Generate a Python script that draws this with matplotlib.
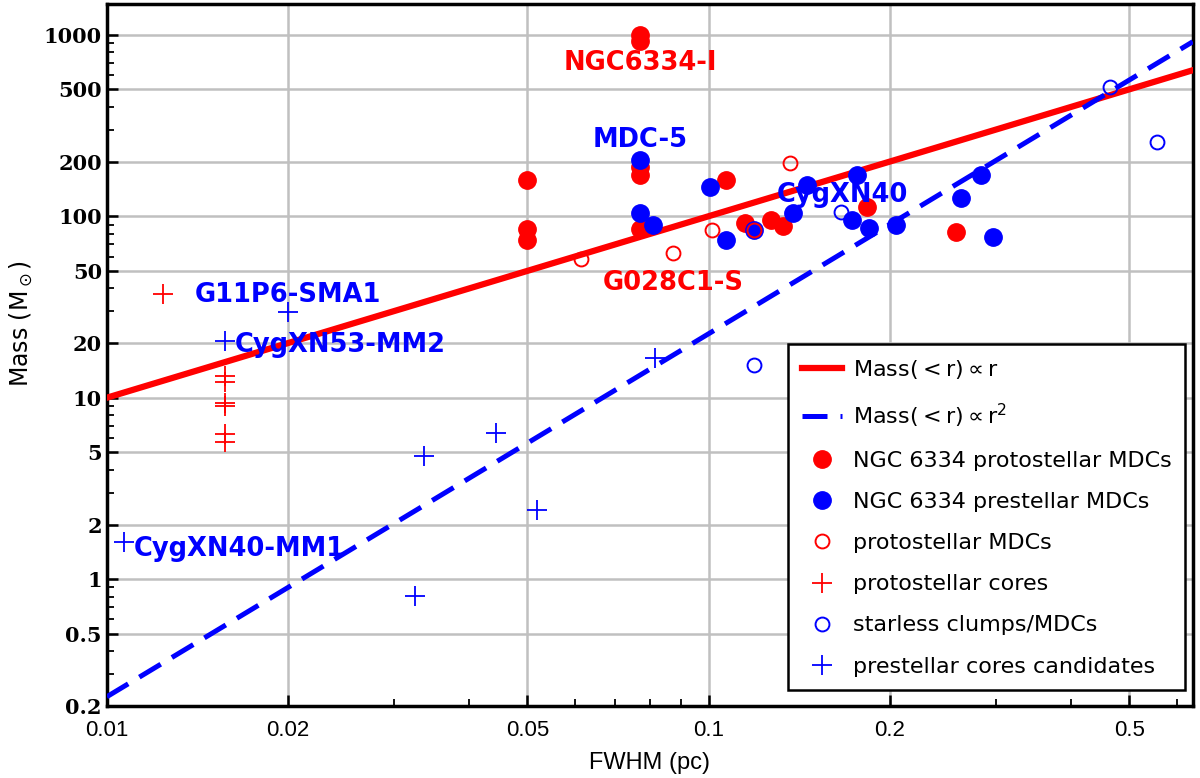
import numpy as np
import matplotlib.pyplot as plt
from matplotlib.ticker import LogLocator, FixedLocator, FixedFormatter, NullFormatter

# NGC 6334 protostellar MDCs (filled red)
ngc_proto_fwhm = [0.077, 0.077, 0.05, 0.05, 0.05, 0.077, 0.077, 0.077, 0.107, 0.115, 0.127, 0.133, 0.1835, 0.258]
ngc_proto_mass = [1000, 920, 158, 85, 74, 188, 168, 85, 158, 92, 95, 88, 113, 82]

# NGC 6334 prestellar MDCs (filled blue)
ngc_pre_fwhm = [0.077, 0.077, 0.0808, 0.1004, 0.107, 0.119, 0.138, 0.1455, 0.1765, 0.173, 0.185, 0.205, 0.263, 0.284, 0.297]
ngc_pre_mass = [205, 104, 89, 145, 74, 84, 104, 148, 169, 95, 86, 89, 126, 169, 77]

# protostellar MDCs (open red)
proto_mdc_fwhm = [0.0615, 0.0873, 0.1014, 0.1364, 0.119]
proto_mdc_mass = [58, 63, 84, 197, 84]

# protostellar cores (red plus)
proto_core_fwhm = [0.0124, 0.0157, 0.0157, 0.0157, 0.0157, 0.0157, 0.0157]
proto_core_mass = [37.5, 13.1, 12.2, 9.4, 9.0, 6.3, 5.7]

# starless clumps / MDCs (open blue)
starless_fwhm = [0.166, 0.119, 0.464, 0.556]
starless_mass = [106, 15.1, 515, 256]

# prestellar cores candidates (blue plus)
pre_core_fwhm = [0.02, 0.0157, 0.0107, 0.0337, 0.0325, 0.0444, 0.0518, 0.0815]
pre_core_mass = [29.5, 20.6, 1.6, 4.8, 0.81, 6.4, 2.4, 16.6]

# annotations: text, x, y, colour
ann_text = ["NGC6334-I", "MDC-5", "CygXN40", "G028C1-S", "G11P6-SMA1", "CygXN53-MM2", "CygXN40-MM1"]
ann_x = [0.077, 0.077, 0.1297, 0.0668, 0.014, 0.0163, 0.0111]
ann_y = [700, 263, 131, 43, 37, 19.4, 1.46]
ann_color = ["red", "blue", "blue", "red", "blue", "blue", "blue"]
ann_ha = ["center", "center", "left", "left", "left", "left", "left"]

x_ticks = [0.01, 0.02, 0.05, 0.1, 0.2, 0.5]
x_ticklabels = ["0.01", "0.02", "0.05", "0.1", "0.2", "0.5"]
y_ticks = [0.2, 0.5, 1, 2, 5, 10, 20, 50, 100, 200, 500, 1000]
y_ticklabels = ["0.2", "0.5", "1", "2", "5", "10", "20", "50", "100", "200", "500", "1000"]

fig = plt.figure(figsize=(12, 7.78), dpi=100)
ax = fig.add_axes([0.089, 0.0925, 0.905, 0.9025])
ax.set_xscale("log")
ax.set_yscale("log")
ax.set_xlim(0.01, 0.638)
ax.set_ylim(0.2, 1480)

r = np.logspace(-2, np.log10(0.638), 200)
ax.plot(r, 1000 * r, color="red", lw=4.5, label=r"Mass$(<$r$)\propto$r", zorder=3)
ax.plot(r, 2250 * r ** 2, color="blue", lw=3.6, dashes=(5, 2.6), label=r"Mass$(<$r$)\propto$r$^2$", zorder=3)

ax.plot(ngc_proto_fwhm, ngc_proto_mass, "o", color="red", ms=12.5, mec="red", ls="none",
        label="NGC 6334 protostellar MDCs", zorder=4)
ax.plot(ngc_pre_fwhm, ngc_pre_mass, "o", color="blue", ms=12.5, mec="blue", ls="none",
        label="NGC 6334 prestellar MDCs", zorder=5)
ax.plot(proto_mdc_fwhm, proto_mdc_mass, "o", mfc="none", mec="red", ms=10, mew=1.4, ls="none",
        label="protostellar MDCs", zorder=6)
ax.plot(proto_core_fwhm, proto_core_mass, "+", color="red", ms=15, mew=1.3, ls="none",
        label="protostellar cores", zorder=6)
ax.plot(starless_fwhm, starless_mass, "o", mfc="none", mec="blue", ms=10, mew=1.4, ls="none",
        label="starless clumps/MDCs", zorder=6)
ax.plot(pre_core_fwhm, pre_core_mass, "+", color="blue", ms=15, mew=1.3, ls="none",
        label="prestellar cores candidates", zorder=6)

for t, x, y, c, ha in zip(ann_text, ann_x, ann_y, ann_color, ann_ha):
    ax.text(x, y, t, color=c, ha=ha, va="center", fontsize=18.5, fontweight="bold",
            family="DejaVu Sans", zorder=7)

ax.xaxis.set_major_locator(FixedLocator(x_ticks))
ax.xaxis.set_major_formatter(FixedFormatter(x_ticklabels))
ax.xaxis.set_minor_locator(LogLocator(base=10, subs=np.arange(2, 10)))
ax.xaxis.set_minor_formatter(NullFormatter())
ax.yaxis.set_major_locator(FixedLocator(y_ticks))
ax.yaxis.set_major_formatter(FixedFormatter(y_ticklabels))
ax.yaxis.set_minor_locator(LogLocator(base=10, subs=np.arange(1, 10), numticks=30))
ax.yaxis.set_minor_formatter(NullFormatter())

ax.grid(True, which="major", color="#c0c0c0", lw=1.8)
ax.set_axisbelow(True)
ax.tick_params(which="major", direction="in", length=8, width=1.8, top=False, right=False)
ax.tick_params(which="minor", direction="in", length=5, width=1.3, top=False, right=False)
ax.tick_params(axis="x", pad=10)
for lab in ax.get_yticklabels():
    lab.set_family("DejaVu Serif")
    lab.set_fontweight("bold")
    lab.set_fontsize(15)
for lab in ax.get_xticklabels():
    lab.set_family("Liberation Sans")
    lab.set_fontsize(16)
for s in ax.spines.values():
    s.set_linewidth(2.5)

ax.set_xlabel("FWHM (pc)", fontsize=17, family="Liberation Sans", labelpad=8)
ax.set_ylabel(r"Mass (M$_\odot$)", fontsize=17, family="DejaVu Sans")
ax.yaxis.set_label_coords(-0.066, 0.545)

leg = ax.legend(loc="lower right", bbox_to_anchor=(0.9926, 0.023), borderaxespad=0, frameon=True,
                fancybox=False, edgecolor="black", framealpha=1, handlelength=1.8, handletextpad=0.5,
                labelspacing=0.95, borderpad=0.6, prop={"family": "DejaVu Sans", "size": 16})
leg.get_frame().set_linewidth(1.8)

fig.savefig("out.png", dpi=100)
